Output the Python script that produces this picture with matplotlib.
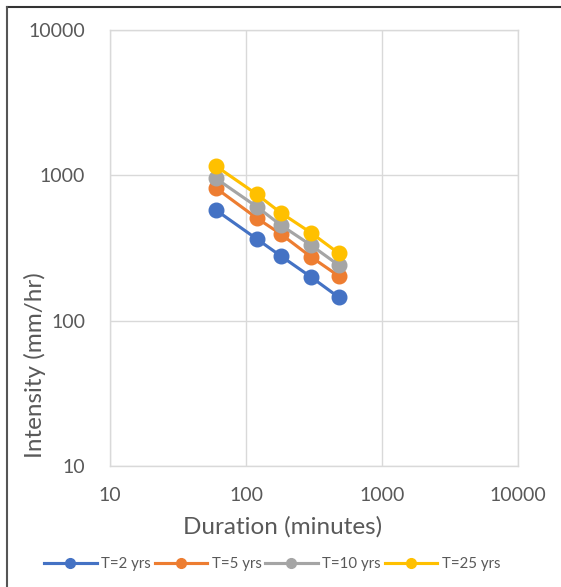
import numpy as np
import matplotlib
matplotlib.use('Agg')
from matplotlib import pyplot as plt
from matplotlib.lines import Line2D

plt.rcParams['font.family'] = ['Lato', 'DejaVu Sans']

# Duration (minutes) and intensity (mm/hr) per return period
duration = [60, 120, 180, 300, 480]
t2 = [577, 365, 279, 200, 145]
t5 = [818, 508, 395, 275, 203]
t10 = [953, 608, 455, 331, 241]
t25 = [1159, 740, 553, 403, 291]

series = [
    ('T=2 yrs', t2, '#4472C4'),
    ('T=5 yrs', t5, '#ED7D31'),
    ('T=10 yrs', t10, '#A5A5A5'),
    ('T=25 yrs', t25, '#FFC000'),
]

txt = '#595959'
grid = '#d9d9d9'

fig = plt.figure(figsize=(5.61, 5.87), dpi=100)
ax = fig.add_axes([110 / 561, 1 - 466 / 587, 408 / 561, 436 / 587])

for name, vals, col in series:
    ax.plot(duration, vals, color=col, lw=2.25, marker='o', ms=10.5, label=name)

ax.set_xscale('log')
ax.set_yscale('log')
ax.set_xlim(10, 10000)
ax.set_ylim(10, 10000)
ticks = [10, 100, 1000, 10000]
ax.set_xticks(ticks)
ax.set_xticklabels([str(t) for t in ticks])
ax.set_yticks(ticks)
ax.set_yticklabels([str(t) for t in ticks])
ax.minorticks_off()
ax.tick_params(length=0, labelsize=14, colors=txt)
ax.tick_params(axis='x', pad=15)
ax.tick_params(axis='y', pad=18)
ax.grid(True, color=grid, lw=1)
ax.set_axisbelow(True)
for s in ax.spines.values():
    s.set_color(grid)
    s.set_linewidth(1)

ax.set_xlabel('Duration (minutes)', fontsize=17.5, color=txt)
ax.xaxis.set_label_coords((283 - 110) / 408, (466 - 527) / 436)
ax.xaxis.label.set_va('center')
ax.set_ylabel('Intensity (mm/hr)', fontsize=17.5, color=txt)
ax.yaxis.set_label_coords((35 - 110) / 408, (466 - 365) / 436)
ax.yaxis.label.set_va('center')

handles = [Line2D([0], [0], color=c, lw=2.25, marker='o', ms=7) for _, _, c in series]
fig.legend(handles, [s[0] for s in series], loc='center',
           bbox_to_anchor=(272 / 561, 1 - 564 / 587),
           ncol=4, frameon=False, fontsize=10.8, handlelength=3.5, handletextpad=0.3,
           columnspacing=0.25, labelcolor=txt)

# outer chart border (top and left visible)
fig.add_artist(Line2D([7 / 561, 1], [1 - 7 / 587, 1 - 7 / 587], color='#333333', lw=1.5,
                      transform=fig.transFigure))
fig.add_artist(Line2D([7 / 561, 7 / 561], [0, 1 - 7 / 587], color='#555555', lw=1.5,
                      transform=fig.transFigure))

plt.savefig('out.png', dpi=100)
